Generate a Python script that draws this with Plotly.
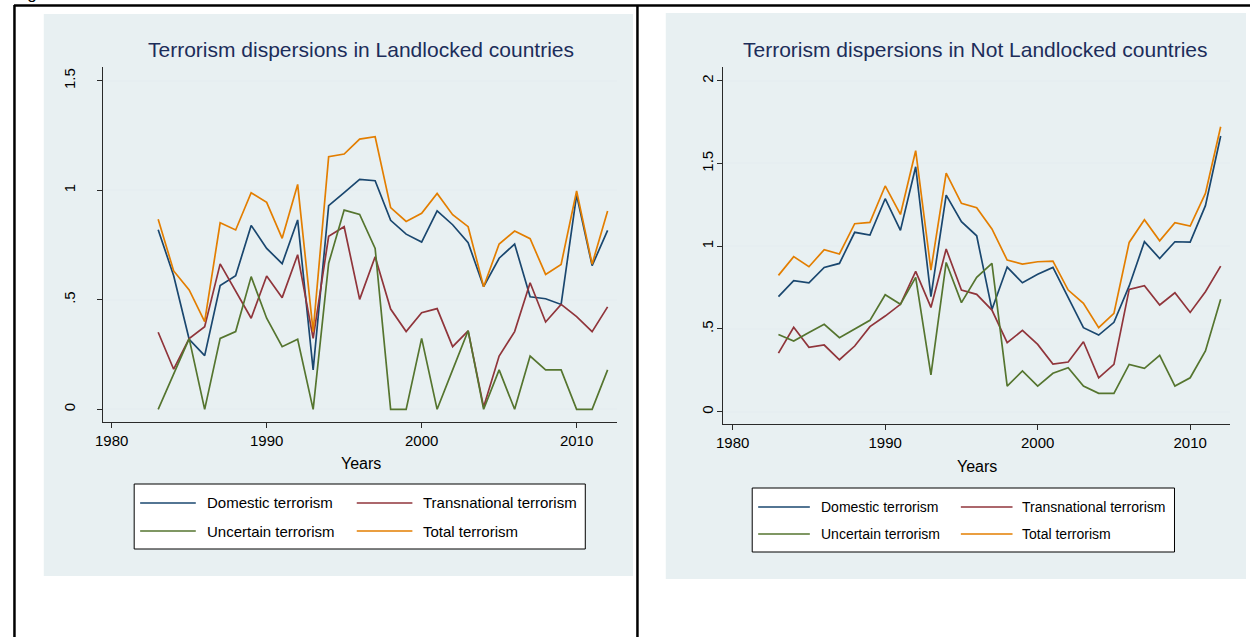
import plotly.graph_objects as go

W, H = 1250, 637

years = list(range(1983, 2013))

# Landlocked countries
land_domestic = [0.82, 0.61, 0.32, 0.245, 0.565, 0.61, 0.84, 0.735, 0.665, 0.865, 0.18, 0.93, 0.99,
                 1.05, 1.044, 0.863, 0.80, 0.764, 0.906, 0.843, 0.761, 0.56, 0.69, 0.755, 0.514,
                 0.505, 0.479, 0.979, 0.656, 0.817]
land_transnational = [0.352, 0.183, 0.323, 0.377, 0.664, 0.54, 0.416, 0.609, 0.51, 0.706, 0.324, 0.79,
                      0.834, 0.502, 0.697, 0.458, 0.355, 0.441, 0.46, 0.286, 0.358, 0.01, 0.243,
                      0.355, 0.578, 0.399, 0.479, 0.423, 0.355, 0.468]
land_uncertain = [0.0, 0.164, 0.323, 0.0, 0.324, 0.355, 0.606, 0.416, 0.286, 0.32, 0.0, 0.667, 0.91,
                  0.89, 0.735, 0.0, 0.0, 0.324, 0.0, 0.18, 0.359, 0.0, 0.18, 0.0, 0.243, 0.18, 0.18,
                  0.0, 0.0, 0.18]
land_total = [0.868, 0.632, 0.545, 0.40, 0.852, 0.819, 0.989, 0.945, 0.781, 1.027, 0.355, 1.154, 1.166,
              1.234, 1.245, 0.921, 0.858, 0.895, 0.986, 0.889, 0.834, 0.56, 0.755, 0.814, 0.779,
              0.616, 0.662, 0.997, 0.663, 0.906]

# Not landlocked countries
coast_domestic = [0.695, 0.792, 0.779, 0.872, 0.896, 1.084, 1.067, 1.287, 1.096, 1.48, 0.695, 1.309,
                  1.148, 1.063, 0.618, 0.874, 0.779, 0.83, 0.872, 0.689, 0.508, 0.463, 0.54, 0.76,
                  1.027, 0.926, 1.027, 1.025, 1.245, 1.666]
coast_transnational = [0.354, 0.51, 0.389, 0.403, 0.314, 0.397, 0.514, 0.578, 0.649, 0.848, 0.63, 0.983,
                       0.735, 0.709, 0.614, 0.417, 0.491, 0.407, 0.288, 0.30, 0.423, 0.205, 0.286,
                       0.739, 0.761, 0.645, 0.719, 0.60, 0.725, 0.88]
coast_uncertain = [0.467, 0.427, 0.479, 0.528, 0.447, 0.50, 0.552, 0.707, 0.649, 0.812, 0.222, 0.902,
                   0.659, 0.812, 0.896, 0.155, 0.246, 0.155, 0.232, 0.266, 0.155, 0.111, 0.111,
                   0.286, 0.262, 0.34, 0.155, 0.205, 0.367, 0.679]
coast_total = [0.824, 0.937, 0.876, 0.979, 0.953, 1.136, 1.144, 1.364, 1.192, 1.577, 0.856, 1.442,
               1.259, 1.233, 1.104, 0.916, 0.892, 0.906, 0.91, 0.735, 0.655, 0.508, 0.594, 1.023,
               1.16, 1.033, 1.142, 1.122, 1.319, 1.722]

series_names = ['Domestic terrorism', 'Transnational terrorism', 'Uncertain terrorism', 'Total terrorism']
series_colors = ['#1a476f', '#90353b', '#55752f', '#e37e00']

x_ticks = [1980, 1990, 2000, 2010]
land_yticks = [0, 0.5, 1, 1.5]
land_ytext = ['0', '.5', '1', '1.5']
coast_yticks = [0, 0.5, 1, 1.5, 2]
coast_ytext = ['0', '.5', '1', '1.5', '2']

FONT = 'Liberation Sans Narrow, Arial Narrow, Liberation Sans, Arial, sans-serif'
PANEL = '#e8f0f2'
GRID = '#e6eef1'
AXIS = '#2a2a2a'


def px(x):
    return x / W


def py(y):
    return 1 - y / H


fig = go.Figure()

for vals, name, color in zip([land_domestic, land_transnational, land_uncertain, land_total],
                             series_names, series_colors):
    fig.add_trace(go.Scatter(x=years, y=vals, mode='lines', name=name, showlegend=False,
                             line=dict(color=color, width=1.7), xaxis='x', yaxis='y'))

for vals, name, color in zip([coast_domestic, coast_transnational, coast_uncertain, coast_total],
                             series_names, series_colors):
    fig.add_trace(go.Scatter(x=years, y=vals, mode='lines', name=name, showlegend=False,
                             line=dict(color=color, width=1.7), xaxis='x2', yaxis='y2'))

xcommon = dict(tickvals=x_ticks, ticks='outside', ticklen=5, tickcolor=AXIS, showline=True,
               linecolor=AXIS, linewidth=1, showgrid=False, zeroline=False,
               tickfont=dict(family=FONT, size=15, color='black'), fixedrange=True)
ycommon = dict(ticks='outside', ticklen=5, tickcolor=AXIS, showline=True, linecolor=AXIS,
               linewidth=1, showgrid=True, gridcolor=GRID, gridwidth=2, zeroline=False,
               tickangle=-90, tickfont=dict(family=FONT, size=15, color='black'), fixedrange=True)

shapes = [
    # grey panels behind each graph
    dict(type='rect', xref='paper', yref='paper', x0=px(36), x1=px(629), y0=py(576), y1=py(14),
         fillcolor=PANEL, line=dict(width=0), layer='below'),
    dict(type='rect', xref='paper', yref='paper', x0=px(662), x1=px(1246), y0=py(579), y1=py(13),
         fillcolor=PANEL, line=dict(width=0), layer='below'),
    # table borders
    dict(type='line', xref='paper', yref='paper', x0=px(6), x1=1, y0=py(5.5), y1=py(5.5),
         line=dict(color='black', width=2.5)),
    dict(type='line', xref='paper', yref='paper', x0=px(6.5), x1=px(6.5), y0=py(5), y1=0,
         line=dict(color='black', width=2.5)),
    dict(type='line', xref='paper', yref='paper', x0=px(633.5), x1=px(633.5), y0=py(5), y1=0,
         line=dict(color='black', width=2.5)),
]

annotations = [
    # caption of the page above, only its lower edge shows
    dict(text='Figure', x=px(3), y=py(-6.5), xref='paper', yref='paper', xanchor='left',
         yanchor='middle', showarrow=False, font=dict(family='Liberation Sans', size=17, color='black')),
    dict(text='Terrorism dispersions in Landlocked countries', x=px(355), y=py(50), xref='paper',
         yref='paper', xanchor='center', yanchor='middle', showarrow=False,
         font=dict(family=FONT, size=21, color='#1c2d5a')),
    dict(text='Terrorism dispersions in Not Landlocked countries', x=px(974), y=py(50), xref='paper',
         yref='paper', xanchor='center', yanchor='middle', showarrow=False,
         font=dict(family=FONT, size=21, color='#1c2d5a')),
    dict(text='Years', x=px(355), y=py(463), xref='paper', yref='paper', xanchor='center',
         yanchor='middle', showarrow=False, font=dict(family=FONT, size=16, color='black')),
    dict(text='Years', x=px(975), y=py(466), xref='paper', yref='paper', xanchor='center',
         yanchor='middle', showarrow=False, font=dict(family=FONT, size=16, color='black')),
]

# legends drawn as boxes with line samples
legend_boxes = [
    dict(box=(127, 484, 581, 549), cols=((133, 189, 198), (351, 407, 416)), rows=(503, 531), size=15),
    dict(box=(749, 488, 1174, 552), cols=((755, 807, 816), (959, 1011, 1019)), rows=(507, 534), size=14),
]
for lg in legend_boxes:
    x0, y0, x1, y1 = lg['box']
    shapes.append(dict(type='rect', xref='paper', yref='paper', x0=px(x0), x1=px(x1), y0=py(y1),
                       y1=py(y0), fillcolor='white', line=dict(color='black', width=1)))
    for i, (name, color) in enumerate(zip(series_names, series_colors)):
        lx0, lx1, tx = lg['cols'][i % 2]
        ry = lg['rows'][i // 2]
        shapes.append(dict(type='line', xref='paper', yref='paper', x0=px(lx0), x1=px(lx1),
                           y0=py(ry), y1=py(ry), line=dict(color=color, width=1.7)))
        annotations.append(dict(text=name, x=px(tx), y=py(ry), xref='paper', yref='paper',
                                xanchor='left', yanchor='middle', showarrow=False,
                                font=dict(family=FONT, size=lg['size'], color='black')))

fig.update_layout(
    width=W,
    height=H,
    margin=dict(l=0, r=0, t=0, b=0),
    paper_bgcolor='white',
    plot_bgcolor='white',
    showlegend=False,
    xaxis=dict(domain=[px(95.3), px(613.3)], range=[1979.42, 2012.63], anchor='y', **xcommon),
    yaxis=dict(domain=[py(421.7), py(67.3)], range=[-0.0566, 1.562], anchor='x',
               tickvals=land_yticks, ticktext=land_ytext, ticklabelstandoff=16, **ycommon),
    xaxis2=dict(domain=[px(720), px(1230)], range=[1979.39, 2012.62], anchor='y2', **xcommon),
    yaxis2=dict(domain=[py(424.3), py(67.3)], range=[-0.076, 2.081], anchor='x2',
                tickvals=coast_yticks, ticktext=coast_ytext, ticklabelstandoff=-2, **ycommon),
    shapes=shapes,
    annotations=annotations,
)

# the page body has a default 8px margin; drop it so the figure sits at the window corner
fig.write_html("out.html", config={'displayModeBar': False},
               post_script="document.body.style.margin='0px';")
